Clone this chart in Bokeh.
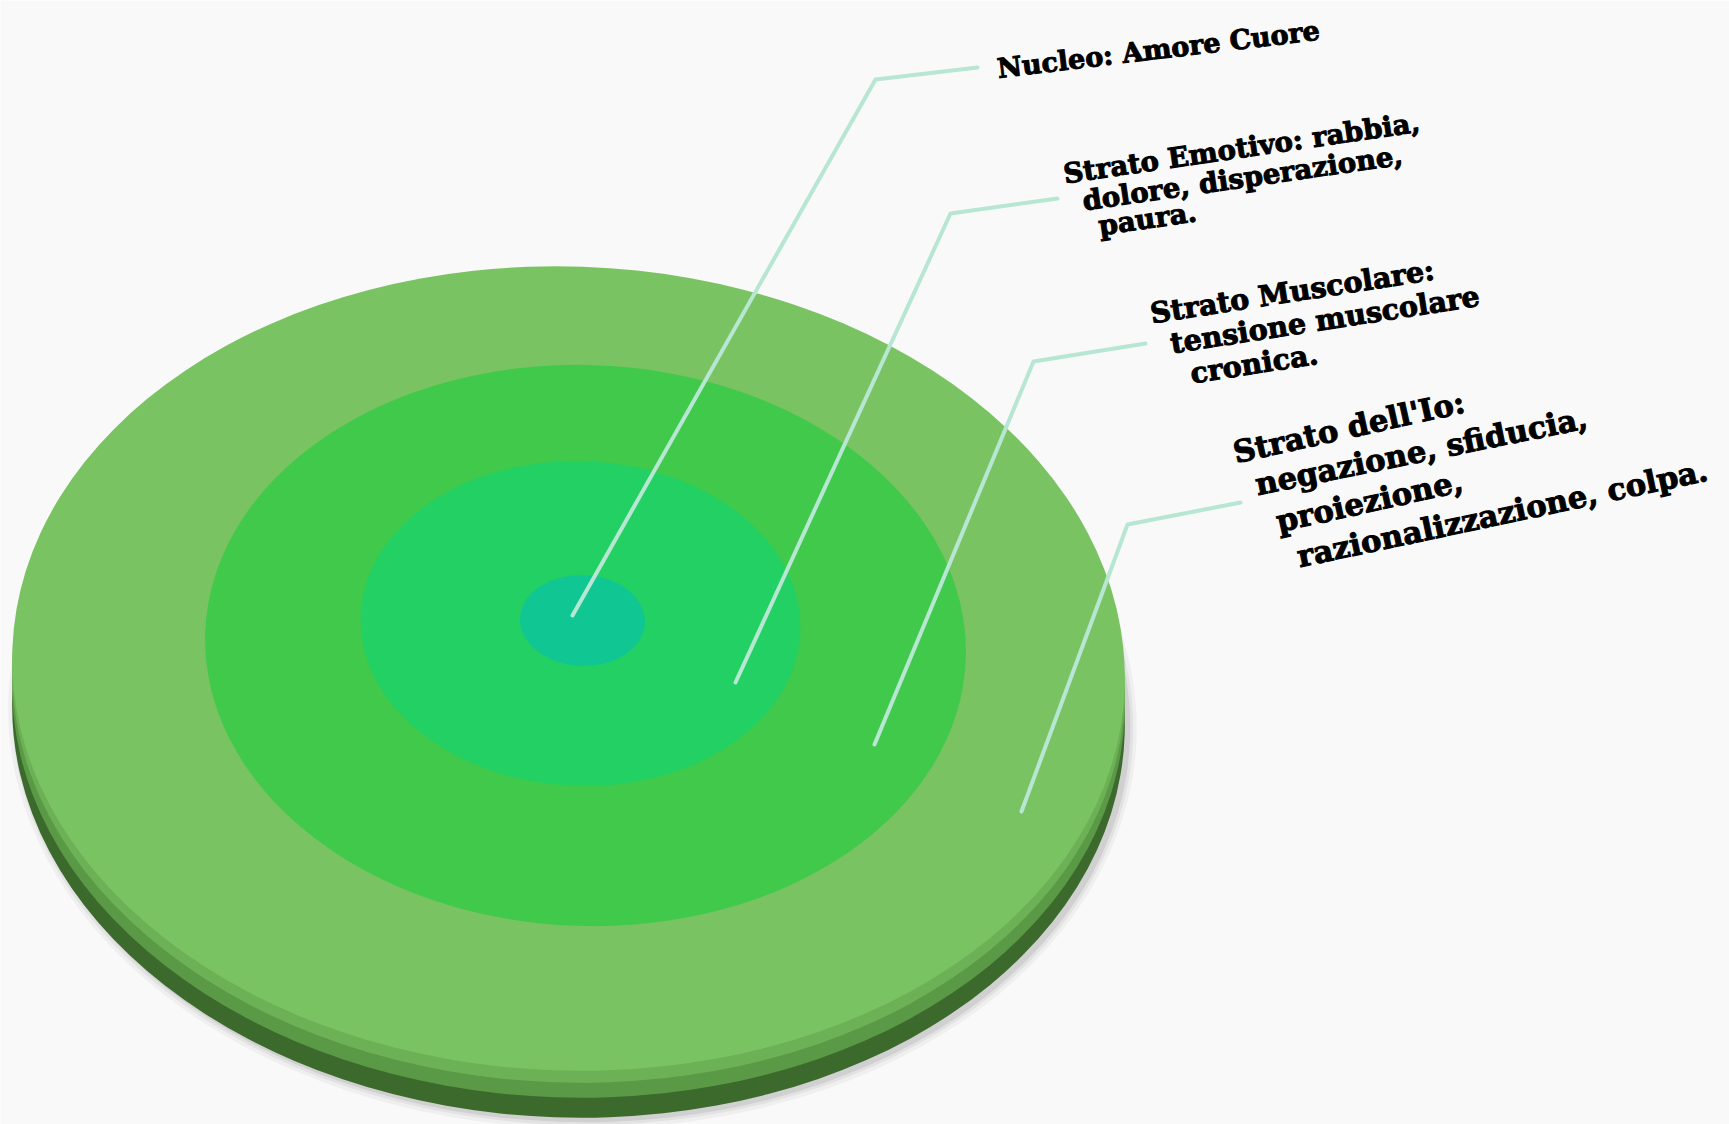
import math
from bokeh.plotting import figure
from bokeh.models import ColumnDataSource, Text
from bokeh.core.properties import value
from bokeh.embed import file_html
from bokeh.resources import INLINE

# ---------------- data ----------------
layers = ["Nucleo", "Strato Emotivo", "Strato Muscolare", "Strato dell'Io"]
label_lines = [
    ["Nucleo: Amore Cuore"],
    ["Strato Emotivo: rabbia,", "dolore, disperazione,", "paura."],
    ["Strato Muscolare:", "tensione muscolare", "cronica."],
    ["Strato dell'Io:", "negazione, sfiducia,", "proiezione,", "razionalizzazione, colpa."],
]
# relative ring extents (outer diameter of each layer, horizontal / vertical)
ring_w = [125, 440, 761, 1113]
ring_h = [91, 325, 561, 804]

# ---------------- layout (screen pixels) ----------------
W, H = 1729, 1124
def X(sx):
    return sx
def Y(sy):
    return H - sy

ring_center = [(582, 620), (580, 623), (585, 645), (568, 668)]
ring_colors = ["#10C794", "#22D064", "#40C94B", "#7AC362"]
tilt = math.radians(-2)

# callout polylines: (start on disk, elbow, end near label)
callouts = [
    [(572, 615), (875, 79), (977, 67)],
    [(735, 682), (950, 213), (1057, 198)],
    [(874, 744), (1033, 361), (1145, 343)],
    [(1021, 811), (1127, 524), (1240, 502)],
]
# baseline start + angle for every label line
label_pos = [
    [(997, 68, 6.8)],
    [(1063, 173, 8.3), (1082, 200, 8.2), (1098, 225, 8.3)],
    [(1150, 313, 8.8), (1170, 343, 8.8), (1190, 373, 8.8)],
    [(1233, 452, 12.5), (1255, 484, 11.5), (1276, 521, 12.5), (1297, 556, 12.0)],
]
label_size = ["27px", "27.5px", "28.5px", "30.5px"]

p = figure(width=W, height=H, x_range=(0, W), y_range=(0, H),
           output_backend="svg", toolbar_location=None, min_border=0)
p.axis.visible = False
p.grid.visible = False
p.outline_line_color = None
p.background_fill_color = "#F9F9F9"
p.border_fill_color = "#F9F9F9"

ocx, ocy = ring_center[3]
# soft shadow
for k, a in [(16, 0.04), (9, 0.05), (3, 0.08)]:
    p.ellipse(x=[X(ocx + 4)], y=[Y(ocy + 50)], width=[ring_w[3] + k], height=[ring_h[3] + k],
              angle=tilt, fill_color="#000000", fill_alpha=a, line_color=None)
# disk side (rim) and bevel
p.ellipse(x=[X(ocx)], y=[Y(ocy + 47)], width=[ring_w[3]], height=[ring_h[3]],
          angle=tilt, fill_color="#3B6A2C", line_color=None)
p.ellipse(x=[X(ocx)], y=[Y(ocy + 27)], width=[ring_w[3]], height=[ring_h[3]],
          angle=tilt, fill_color="#5A9A46", line_color=None)
p.ellipse(x=[X(ocx)], y=[Y(ocy + 12)], width=[ring_w[3]], height=[ring_h[3]],
          angle=tilt, fill_color="#6DB156", line_color=None)

# rings, outer first
for i in [3, 2, 1, 0]:
    cx, cy = ring_center[i]
    src = ColumnDataSource(dict(x=[X(cx)], y=[Y(cy)], w=[ring_w[i]], h=[ring_h[i]], name=[layers[i]]))
    p.ellipse(x="x", y="y", width="w", height="h", angle=tilt, source=src,
              fill_color=ring_colors[i], line_color=None)

# callout lines
for pts in callouts:
    p.line(x=[X(a) for a, b in pts], y=[Y(b) for a, b in pts],
           line_color="#B7E6D3", line_width=4, line_cap="round", line_join="round")

extra = {}
if "text_outline_color" in Text.properties():
    extra["text_outline_color"] = "#000000"

# labels
for lines, poss, fs in zip(label_lines, label_pos, label_size):
    for txt, (sx, sy, ang) in zip(lines, poss):
        p.text(x=[X(sx)], y=[Y(sy)], text=[txt], angle=math.radians(ang),
               text_font=value("DejaVu Serif"), text_font_style="bold",
               text_font_size=fs, text_color="#000000",
               text_align="left", text_baseline="alphabetic", **extra)

open("out.html", "w").write(file_html(p, INLINE))
